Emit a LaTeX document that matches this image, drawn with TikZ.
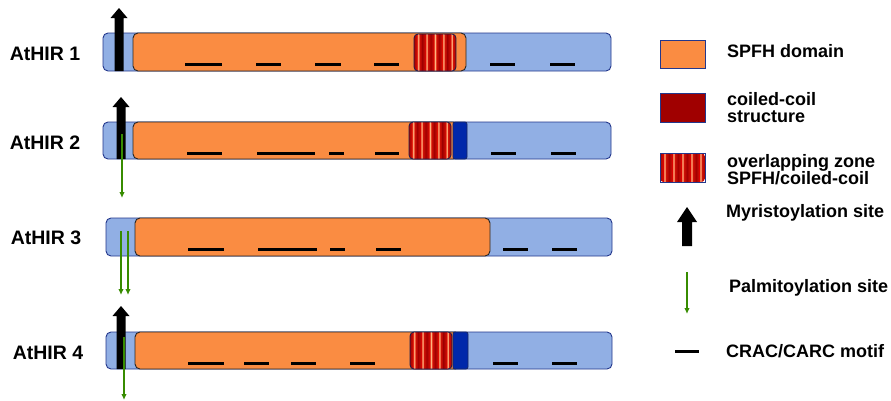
\documentclass[tikz,border=0pt]{standalone}
\usepackage{fontspec}
\setmainfont{Liberation Sans}
\usetikzlibrary{arrows.meta}
\definecolor{barblue}{RGB}{145,175,228}
\definecolor{barborder}{RGB}{35,55,140}
\definecolor{spfh}{RGB}{250,140,66}
\definecolor{coil}{RGB}{160,0,0}
\definecolor{stripedark}{RGB}{165,0,0}
\definecolor{stripemid}{RGB}{225,25,10}
\definecolor{stripelight}{RGB}{255,185,130}
\definecolor{tmblue}{RGB}{0,40,170}
\definecolor{palm}{RGB}{55,140,0}
\tikzset{
  bar/.style={fill=barblue, draw=barborder, line width=0.9pt, rounded corners=5pt},
  spfhbox/.style={fill=spfh, draw=black!85, line width=0.9pt, rounded corners=5pt},
  tmbox/.style={fill=tmblue, draw=barborder!70!black, line width=0.8pt, rounded corners=2pt},
  zoneborder/.style={draw=barborder!60!black, line width=0.8pt, rounded corners=4pt},
  motif/.style={draw=black, line width=3pt},
  palmarrow/.style={draw=palm, line width=1.3pt, -{Latex[length=6pt,width=5.5pt]}},
  protlabel/.style={font=\bfseries\fontsize{19.5}{22}\selectfont, anchor=center, inner sep=0pt},
  legtext/.style={font=\bfseries\fontsize{18}{17}\selectfont, anchor=west, align=left, inner sep=0pt},
  legbox/.style={draw=barborder, line width=0.9pt}
}
% striped overlap zone: x0, y0, x1, y1
\newcommand\zonestripes[4]{%
  \begin{scope}
    \clip[rounded corners=4pt] (#1,#2) rectangle (#3,#4);
    \fill[stripedark] (#1,#2) rectangle (#3,#4);
    \pgfmathsetmacro\zw{(#3-#1)/5}
    \foreach \i in {0,...,4}{
      \shade[left color=stripedark, right color=stripedark, middle color=stripemid]
        ({#1+\i*\zw},#2) rectangle ({#1+(\i+1)*\zw},#4);
      \shade[left color=stripemid, right color=stripemid, middle color=stripelight]
        ({#1+(\i+0.5)*\zw-1.3},#2) rectangle ({#1+(\i+0.5)*\zw+1.3},#4);
    }
  \end{scope}
}
% myristoylation block arrow: x, ytip, ybottom, half shaft, half head, head length
\newcommand\myrarrow[6]{%
  \fill[black] ({#1-#4},#3) -- ({#1-#4},{#2+#6}) -- ({#1-#5},{#2+#6}) -- (#1,#2)
    -- ({#1+#5},{#2+#6}) -- ({#1+#4},{#2+#6}) -- ({#1+#4},#3) -- cycle;
}
\begin{document}
\begin{tikzpicture}[x=1pt,y=-1pt]
\useasboundingbox (0,0) rectangle (891,400);

% ---------- AtHIR 1 ----------
\node[protlabel] (l1) at (45,54) {AtHIR 1};
\draw[bar] (103,33) rectangle (611,71);
\draw[spfhbox] (133,33) rectangle (466,71);
\zonestripes{414}{34}{456}{71}
\draw[zoneborder] (414,34) rectangle (456,71);
\foreach \a/\b in {185/222,256/281,315/341,374/399,490/515,550/575}
  \draw[motif] (\a,64) -- (\b,64);
\myrarrow{119}{8}{71}{4.5}{8.5}{10}

% ---------- AtHIR 2 ----------
\node[protlabel] (l2) at (45,143) {AtHIR 2};
\draw[bar] (103,122) rectangle (611,159);
\draw[spfhbox] (133,122) rectangle (458,159);
\zonestripes{409}{122}{451}{159}
\draw[zoneborder] (409,122) rectangle (451,159);
\draw[tmbox] (453,122) rectangle (467,159);
\foreach \a/\b in {187/222,257/315,329/344,375/399,491/516,551/576}
  \draw[motif] (\a,153) -- (\b,153);
\myrarrow{121}{97}{159}{4.5}{8.5}{10}
\coordinate (p2s) at (122,134); \coordinate (p2e) at (122,198);
\draw[palmarrow] (p2s) -- (p2e);

% ---------- AtHIR 3 ----------
\node[protlabel] (l3) at (46,238) {AtHIR 3};
\draw[bar] (106,218) rectangle (612,256);
\draw[spfhbox] (135,218) rectangle (490,256);
\foreach \a/\b in {188/224,258/317,330/345,376/401,503/528,552/577}
  \draw[motif] (\a,249) -- (\b,249);
\coordinate (p3as) at (121,231); \coordinate (p3ae) at (121,295);
\coordinate (p3bs) at (128,231); \coordinate (p3be) at (128,295);
\draw[palmarrow] (p3as) -- (p3ae);
\draw[palmarrow] (p3bs) -- (p3be);

% ---------- AtHIR 4 ----------
\node[protlabel] (l4) at (48,353) {AtHIR 4};
\draw[bar] (106,332) rectangle (612,369);
\draw[spfhbox] (135,332) rectangle (460,369);
\zonestripes{410}{332}{452}{369}
\draw[zoneborder] (410,332) rectangle (452,369);
\draw[tmbox] (453,332) rectangle (468,369);
\foreach \a/\b in {188/224,244/269,291/316,350/375,493/518,552/577}
  \draw[motif] (\a,363) -- (\b,363);
\myrarrow{121}{306}{369}{4.5}{8.5}{10}
\coordinate (p4s) at (124,337); \coordinate (p4e) at (124,400);
\draw[palmarrow] (p4s) -- (p4e);

% ---------- Legend ----------
\draw[legbox, fill=spfh] (660,40) rectangle (705,68);
\node[legtext] (t1) at (727,51) {SPFH domain};
\draw[legbox, fill=coil] (660,93) rectangle (705,122);
\node[legtext] (t2) at (727,108) {coiled-coil\\structure};
\zonestripes{660}{153}{705}{182}
\draw[legbox] (660,153) rectangle (705,182);
\node[legtext] (t3) at (727,170) {overlapping zone\\SPFH/coiled-coil};
\myrarrow{687}{207}{246}{5}{10}{15}
\node[legtext] (t4) at (726,213) {Myristoylation site};
\coordinate (lps) at (687,272); \coordinate (lpe) at (687,314);
\draw[palmarrow] (lps) -- (lpe);
\node[legtext] (t5) at (729,288) {Palmitoylation site};
\draw[motif] (675,351) -- (699,351);
\node[legtext] (t6) at (726,351) {CRAC/CARC motif};
\end{tikzpicture}
\end{document}
